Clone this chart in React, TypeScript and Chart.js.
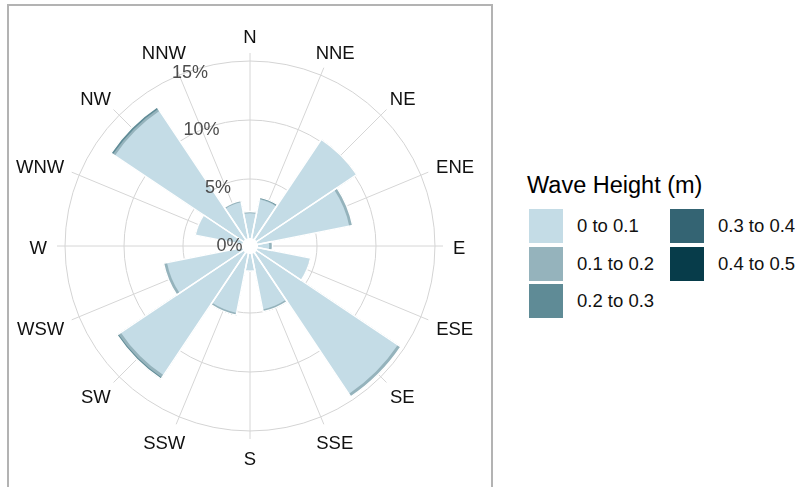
import React, { useEffect, useRef } from 'react';
import { Chart, registerables } from 'chart.js';

Chart.register(...registerables);

// ---- data ----
const directions = ['N', 'NNE', 'NE', 'ENE', 'E', 'ESE', 'SE', 'SSE', 'S', 'SSW', 'SW', 'WSW', 'W', 'WNW', 'NW', 'NNW'];
const waveBins = ['0 to 0.1', '0.1 to 0.2', '0.2 to 0.3', '0.3 to 0.4', '0.4 to 0.5'];
// frequency (%) per direction for each wave height bin
const h0to01 = [2.1, 3.35, 10.15, 7.9, 0.95, 4.5, 14.4, 4.8, 1.45, 5.1, 12.5, 6.5, 0, 4.0, 13.1, 3.1];
const h01to02 = [0.15, 0.08, 0.05, 0.3, 0.28, 0.05, 0.3, 0.2, 0, 0.2, 0.25, 0.3, 0, 0.05, 0.2, 0.15];
const h02to03 = [0, 0.1, 0, 0, 0, 0, 0, 0, 0, 0, 0.15, 0, 0, 0, 0.2, 0];
const h03to04 = [0, 0, 0, 0, 0, 0, 0, 0, 0, 0, 0, 0, 0, 0, 0, 0];
const h04to05 = [0, 0, 0, 0, 0, 0, 0, 0, 0, 0, 0, 0, 0, 0, 0, 0];
const binColors = ['#c4dce6', '#95b3bc', '#5f8b96', '#346473', '#073c4a'];
const radialTicks = [0, 5, 10, 15];
const tickLabels = ['0%', '5%', '10%', '15%'];
const R_MIN = -0.68;
const R_MAX = 15.68;

const FONT = '"Liberation Sans", Arial, Helvetica, sans-serif';

// radial tick labels, placed along the first wedge edge of the data scale
const tickLabelPlugin = {
  id: 'roseTickLabels',
  afterDatasetsDraw(chart: any) {
    const s = chart.scales.r;
    const ctx = chart.ctx;
    ctx.save();
    ctx.font = `18px ${FONT}`;
    ctx.fillStyle = '#4d4d4d';
    ctx.textAlign = 'right';
    ctx.textBaseline = 'middle';
    radialTicks.forEach((v, i) => {
      const p = s.getPointPosition(0, s.getDistanceFromCenterForValue(v));
      ctx.fillText(tickLabels[i], p.x - 6, p.y + 8);
    });
    ctx.restore();
  },
};

// direction labels with angle-dependent justification (like ggplot coord_polar)
const directionLabelPlugin = {
  id: 'roseDirectionLabels',
  afterDraw(chart: any) {
    const s = chart.scales.r2;
    const ctx = chart.ctx;
    const labels: string[] = chart.data.labels;
    const H = 16.3;
    ctx.save();
    ctx.font = `18.5px ${FONT}`;
    ctx.fillStyle = '#111111';
    ctx.textAlign = 'left';
    ctx.textBaseline = 'alphabetic';
    labels.forEach((lab, i) => {
      const p = s.getPointPosition(i, s.drawingArea + 10);
      const theta = s.getIndexAngle(i);
      const sn = Math.sin(theta);
      const cs = Math.cos(theta);
      const w = ctx.measureText(lab).width;
      const hjust = 0.5 - sn / 2;
      const x = p.x - hjust * w;
      const y = p.y - H * (0.5 + cs / 2) + H;
      ctx.fillText(lab, x, y);
    });
    ctx.restore();
  },
};

export default function App() {
  const ref = useRef<HTMLCanvasElement | null>(null);

  useEffect(() => {
    if (!ref.current) return;
    const series = [h0to01, h01to02, h02to03, h03to04, h04to05];
    const cum: number[][] = [];
    series.forEach((s, k) => {
      cum.push(s.map((v, i) => v + (k ? cum[k - 1][i] : 0)));
    });
    const stack = cum.map((d, k) => ({
      label: waveBins[k],
      data: d,
      backgroundColor: binColors[k],
      borderWidth: 0,
      rAxisID: 'r',
    }));
    const outline = {
      label: 'outline',
      data: cum[cum.length - 1],
      backgroundColor: 'rgba(0,0,0,0)',
      borderColor: '#ffffff',
      borderWidth: 1.5,
      rAxisID: 'r',
    };
    const hole = {
      label: 'hole',
      data: directions.map(() => 0),
      backgroundColor: '#ffffff',
      borderWidth: 0,
      rAxisID: 'r',
    };
    const chart = new Chart(ref.current, {
      type: 'polarArea',
      data: { labels: directions, datasets: [hole, outline, ...stack] as any },
      options: {
        responsive: false,
        animation: false,
        events: [],
        layout: { padding: { left: 48, right: 47, top: 47, bottom: 47 } },
        plugins: { legend: { display: false }, tooltip: { enabled: false } },
        scales: {
          r: {
            type: 'radialLinear',
            axis: 'r',
            min: R_MIN,
            max: R_MAX,
            startAngle: -11.25,
            grid: { display: false },
            angleLines: { display: false },
            ticks: { display: false },
            pointLabels: { display: false },
          },
          r2: {
            type: 'radialLinear',
            axis: 'r',
            min: R_MIN,
            max: R_MAX,
            startAngle: 0,
            grid: {
              display: true,
              circular: true,
              lineWidth: 1,
              color: (c: any) => (c.tick && c.tick.value === 0 ? 'rgba(0,0,0,0)' : '#d4d4d4'),
            },
            angleLines: { display: true, color: '#d6d6d6', lineWidth: 1 },
            ticks: { display: false },
            afterBuildTicks: (s: any) => {
              s.ticks = radialTicks.map((v) => ({ value: v }));
            },
            pointLabels: { display: false },
          },
        } as any,
      },
      plugins: [tickLabelPlugin, directionLabelPlugin],
    });
    return () => chart.destroy();
  }, []);

  const legendRows = [
    { col: 0, row: 0 },
    { col: 0, row: 1 },
    { col: 0, row: 2 },
    { col: 1, row: 0 },
    { col: 1, row: 1 },
  ];
  const rowTops = [209, 247, 284];
  const boxLefts = [529, 670];
  const textLefts = [577, 718];

  return (
    <div style={{ position: 'absolute', left: 0, top: 0, width: 802, height: 487, overflow: 'hidden', background: '#fff', fontFamily: FONT }}>
      <div
        style={{
          position: 'absolute',
          left: 7,
          top: 4,
          width: 486,
          height: 520,
          boxSizing: 'border-box',
          border: '2px solid #b3b3b3',
        }}
      />
      <canvas ref={ref} width={482} height={481} style={{ position: 'absolute', left: 9, top: 6, width: 482, height: 481 }} />
      <div style={{ position: 'absolute', left: 527, top: 172, fontSize: 23.5, lineHeight: '27px', color: '#000', whiteSpace: 'nowrap' }}>
        Wave Height (m)
      </div>
      {waveBins.map((b, k) => {
        const { col, row } = legendRows[k];
        return (
          <React.Fragment key={b}>
            <div
              style={{
                position: 'absolute',
                left: boxLefts[col],
                top: rowTops[row],
                width: 34,
                height: 34,
                background: binColors[k],
              }}
            />
            <div
              style={{
                position: 'absolute',
                left: textLefts[col],
                top: rowTops[row],
                height: 34,
                lineHeight: '34px',
                fontSize: 18.5,
                color: '#111',
                whiteSpace: 'nowrap',
              }}
            >
              {b}
            </div>
          </React.Fragment>
        );
      })}
    </div>
  );
}
